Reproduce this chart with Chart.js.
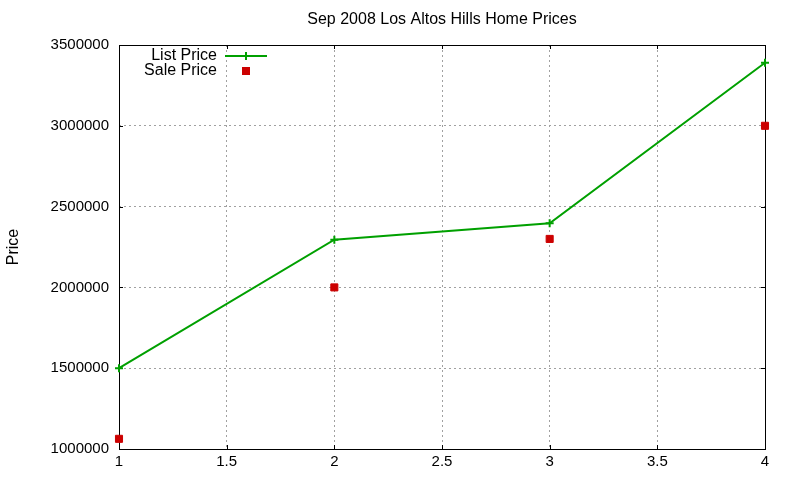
<!DOCTYPE html>
<html>
<head>
<meta charset="utf-8">
<script src="https://cdn.jsdelivr.net/npm/chart.js@4/dist/chart.umd.min.js"></script>
<style>
  html, body { margin: 0; padding: 0; background: #fff; }
  #wrap { width: 800px; height: 480px; }
</style>
</head>
<body>
<div id="wrap"><canvas id="myChart" width="800" height="480"></canvas></div>
<script>
const chartTitle = 'Sep 2008 Los Altos Hills Home Prices'
const yTitle = 'Price'

// x positions of the four sales
const months = [1, 2, 3, 4]
const listPrice = [1500000, 2295000, 2397000, 3390000]
const salePrice = [1063000, 2000000, 2300000, 3000000]

const xTicks = [1, 1.5, 2, 2.5, 3, 3.5, 4]
const yTicks = [1000000, 1500000, 2000000, 2500000, 3000000, 3500000]

const green = '#00a000'
const red = '#cc0000'
const family = 'Liberation Sans, Arial, sans-serif'
const font = { family, size: 15 }
const bigFont = { family, size: 16 }

// gnuplot-ish frame, inward ticks, title and key
const gnuplotLook = {
	id: 'gnuplotLook',
	beforeDatasetsDraw(chart){
		const { ctx, chartArea: a, scales } = chart
		ctx.save()
		ctx.strokeStyle = '#000'
		ctx.lineWidth = 1
		ctx.beginPath()
		xTicks.forEach(v => {
			const x = Math.round(scales.x.getPixelForValue(v)) + 0.5
			ctx.moveTo(x, a.bottom); ctx.lineTo(x, a.bottom - 4)
			ctx.moveTo(x, a.top); ctx.lineTo(x, a.top + 4)
		})
		yTicks.forEach(v => {
			const y = Math.round(scales.y.getPixelForValue(v)) + 0.5
			ctx.moveTo(a.left, y); ctx.lineTo(a.left + 4, y)
			ctx.moveTo(a.right, y); ctx.lineTo(a.right - 4, y)
		})
		ctx.stroke()
		ctx.strokeRect(Math.round(a.left) + 0.5, Math.round(a.top) + 0.5,
			Math.round(a.right - a.left), Math.round(a.bottom - a.top))
		ctx.restore()
	},
	afterDraw(chart){
		const { ctx, chartArea: a } = chart
		ctx.save()
		ctx.fillStyle = '#000'
		ctx.font = `${bigFont.size}px ${family}`
		ctx.textBaseline = 'middle'
		ctx.textAlign = 'center'
		ctx.fillText(chartTitle, (a.left + a.right) / 2, 20)

		// key
		ctx.textAlign = 'right'
		ctx.fillText('List Price', 217, 56)
		ctx.fillText('Sale Price', 217, 71)
		ctx.strokeStyle = green
		ctx.lineWidth = 2
		ctx.beginPath()
		ctx.moveTo(225, 56); ctx.lineTo(267, 56)
		ctx.moveTo(246, 52); ctx.lineTo(246, 60)
		ctx.stroke()
		ctx.fillStyle = red
		ctx.fillRect(242, 67, 8, 8)
		ctx.restore()
	}
}

const ctx = document.getElementById('myChart').getContext('2d')

const myChart = new Chart(ctx, {
	type: 'scatter',
	plugins: [gnuplotLook],
	data: {
		datasets: [
			{
				label: 'List Price',
				data: months.map((m, i) => ({ x: m, y: listPrice[i] })),
				showLine: true,
				clip: false,
				borderColor: green,
				backgroundColor: green,
				borderWidth: 2,
				pointStyle: 'cross',
				pointRadius: 4,
				pointBorderWidth: 2,
				pointBorderColor: green
			},
			{
				label: 'Sale Price',
				data: months.map((m, i) => ({ x: m, y: salePrice[i] })),
				showLine: false,
				clip: false,
				pointStyle: 'rect',
				pointRadius: 5,
				pointBorderWidth: 1,
				pointBackgroundColor: red,
				pointBorderColor: red
			}
		]
	},
	options: {
		responsive: false,
		animation: false,
		events: [],
		layout: { padding: { left: 0, right: 35, top: 45, bottom: 0 } },
		plugins: {
			legend: { display: false },
			title: { display: false },
			tooltip: { enabled: false }
		},
		scales: {
			x: {
				type: 'linear',
				min: 1,
				max: 4,
				afterBuildTicks: s => { s.ticks = xTicks.map(v => ({ value: v })) },
				afterFit: s => { s.height = 31 },
				ticks: { color: '#000', font, padding: 4, callback: v => String(v), maxRotation: 0 },
				grid: { color: '#a0a0a0', drawTicks: false },
				border: { display: false, dash: [2, 3] }
			},
			y: {
				min: 1000000,
				max: 3500000,
				afterBuildTicks: s => { s.ticks = yTicks.map(v => ({ value: v })) },
				afterFit: s => { s.width = 119 },
				ticks: { color: '#000', font, padding: 10, callback: v => String(v) },
				grid: { color: '#a0a0a0', drawTicks: false },
				border: { display: false, dash: [2, 3] },
				title: { display: true, text: yTitle, color: '#000', font: bigFont }
			}
		}
	}
})
</script>
</body>
</html>
